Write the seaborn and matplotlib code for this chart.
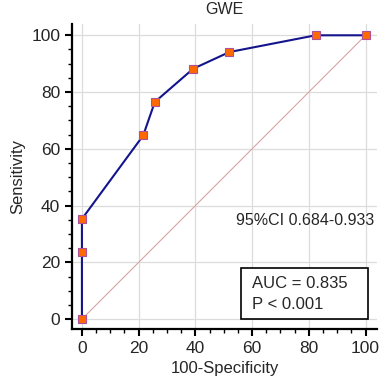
import numpy as np
import pandas as pd
import seaborn as sns
import matplotlib.pyplot as plt
from matplotlib.ticker import MultipleLocator
from matplotlib.patches import Rectangle

# ROC points
fpr = [0, 0, 0, 21.6, 25.7, 39.2, 52.0, 82.4, 100]
sens = [0, 23.5, 35.3, 64.7, 76.5, 88.2, 94.1, 100, 100]
diag = [0, 100]

title = 'GWE'
ci_text = '95%CI 0.684-0.933'
auc_text = 'AUC = 0.835'
p_text = 'P < 0.001'

sns.set_style('white')
plt.rcParams['font.family'] = ['Liberation Sans', 'DejaVu Sans']

roc = pd.DataFrame({'x': fpr, 'y': sens})

fig = plt.figure(figsize=(3.83, 3.8), dpi=100)
ax = fig.add_axes([0.188, 0.134, 0.796, 0.803])

ax.grid(True, which='major', color='#dcdcdc', linewidth=0.9)
ax.set_axisbelow(True)

ax.plot(diag, diag, color='#d9a3a3', linewidth=0.8, zorder=2)
sns.lineplot(data=roc, x='x', y='y', sort=False, estimator=None, ax=ax,
             color='#14148c', linewidth=1.5, marker='s', markersize=6,
             markerfacecolor='#ff6a00', markeredgecolor='#b0509a',
             markeredgewidth=0.8, zorder=3)

ax.set_xlim(-3.5, 104)
ax.set_ylim(-3.5, 104)
ax.xaxis.set_major_locator(MultipleLocator(20))
ax.yaxis.set_major_locator(MultipleLocator(20))
ax.xaxis.set_minor_locator(MultipleLocator(5))
ax.yaxis.set_minor_locator(MultipleLocator(5))
ax.tick_params(which='major', direction='out', length=5, width=1.5,
               labelsize=12.5, left=True, bottom=True, color='black')
ax.tick_params(which='minor', direction='out', length=3, width=1,
               left=True, bottom=True, color='black')

for s in ['top', 'right']:
    ax.spines[s].set_visible(False)
for s in ['left', 'bottom']:
    ax.spines[s].set_linewidth(1.6)
    ax.spines[s].set_color('black')

ax.set_xlabel('100-Specificity', fontsize=12)
ax.set_ylabel('Sensitivity', fontsize=12)
ax.set_title(title, fontsize=11.5, pad=7)

ax.text(0.99, 0.355, ci_text, transform=ax.transAxes, ha='right',
        va='center', fontsize=11.5)
ax.add_patch(Rectangle((0.555, 0.034), 0.415, 0.165, transform=ax.transAxes,
                       facecolor='white', edgecolor='black', linewidth=1.2,
                       zorder=4))
ax.text(0.59, 0.15, auc_text, transform=ax.transAxes, ha='left',
        va='center', fontsize=12, zorder=5)
ax.text(0.59, 0.08, p_text, transform=ax.transAxes, ha='left',
        va='center', fontsize=12, zorder=5)

fig.savefig('out.png', dpi=100)
